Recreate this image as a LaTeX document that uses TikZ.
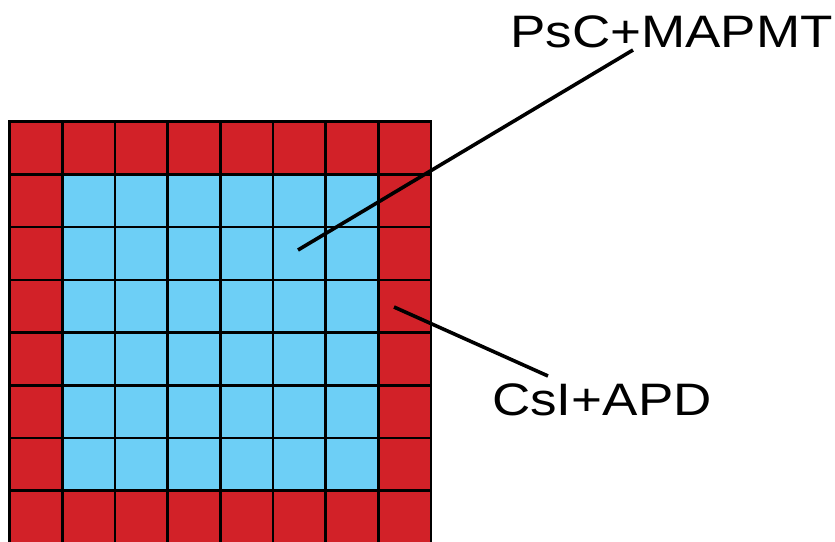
\documentclass[tikz,border=0pt]{standalone}
\usepackage{fontspec}
\setmainfont{Liberation Sans}
\definecolor{crystal}{RGB}{210,33,40}
\definecolor{scint}{RGB}{109,207,246}
\newcommand\widetag[1]{\scalebox{1.165}[1]{#1}}
\begin{document}
\begin{tikzpicture}[x=1pt,y=-1pt,
  cell/.style={draw=black, line width=2.6pt, minimum size=52.7pt,
    inner sep=0pt, outer sep=0pt, shape=rectangle},
  leader/.style={draw=black, line width=3.6pt},
  tag/.style={font=\fontsize{45.5}{54}\selectfont, inner sep=0pt, anchor=base west}]
\useasboundingbox (0,0) rectangle (835,541);
% 8x8 module: outer ring of CsI crystals, inner 6x6 of PsC tiles
\foreach \c in {0,...,7}{
  \foreach \r in {0,...,7}{
    \pgfmathtruncatemacro\edge{(\c==0)||(\c==7)||(\r==0)||(\r==7)}
    \ifnum\edge=1 \def\fc{crystal}\else\def\fc{scint}\fi
    \node[cell, fill=\fc] (c-\r-\c) at ({9.5+52.7*(\c+0.5)},{121.7+52.7*(\r+0.5)}) {};
  }
}
% labels
\node[tag] (psc) at (510,47) {\widetag{PsC+MAPMT}};
\node[tag] (csi) at (492,415) {\widetag{CsI+APD}};
% leader lines
\coordinate (psc-pt) at (298,250);
\coordinate (psc-end) at (633,50);
\coordinate (csi-pt) at (394,307);
\coordinate (csi-end) at (548,376);
\draw[leader] (psc-pt) -- (psc-end);
\draw[leader] (csi-pt) -- (csi-end);
\end{tikzpicture}
\end{document}
